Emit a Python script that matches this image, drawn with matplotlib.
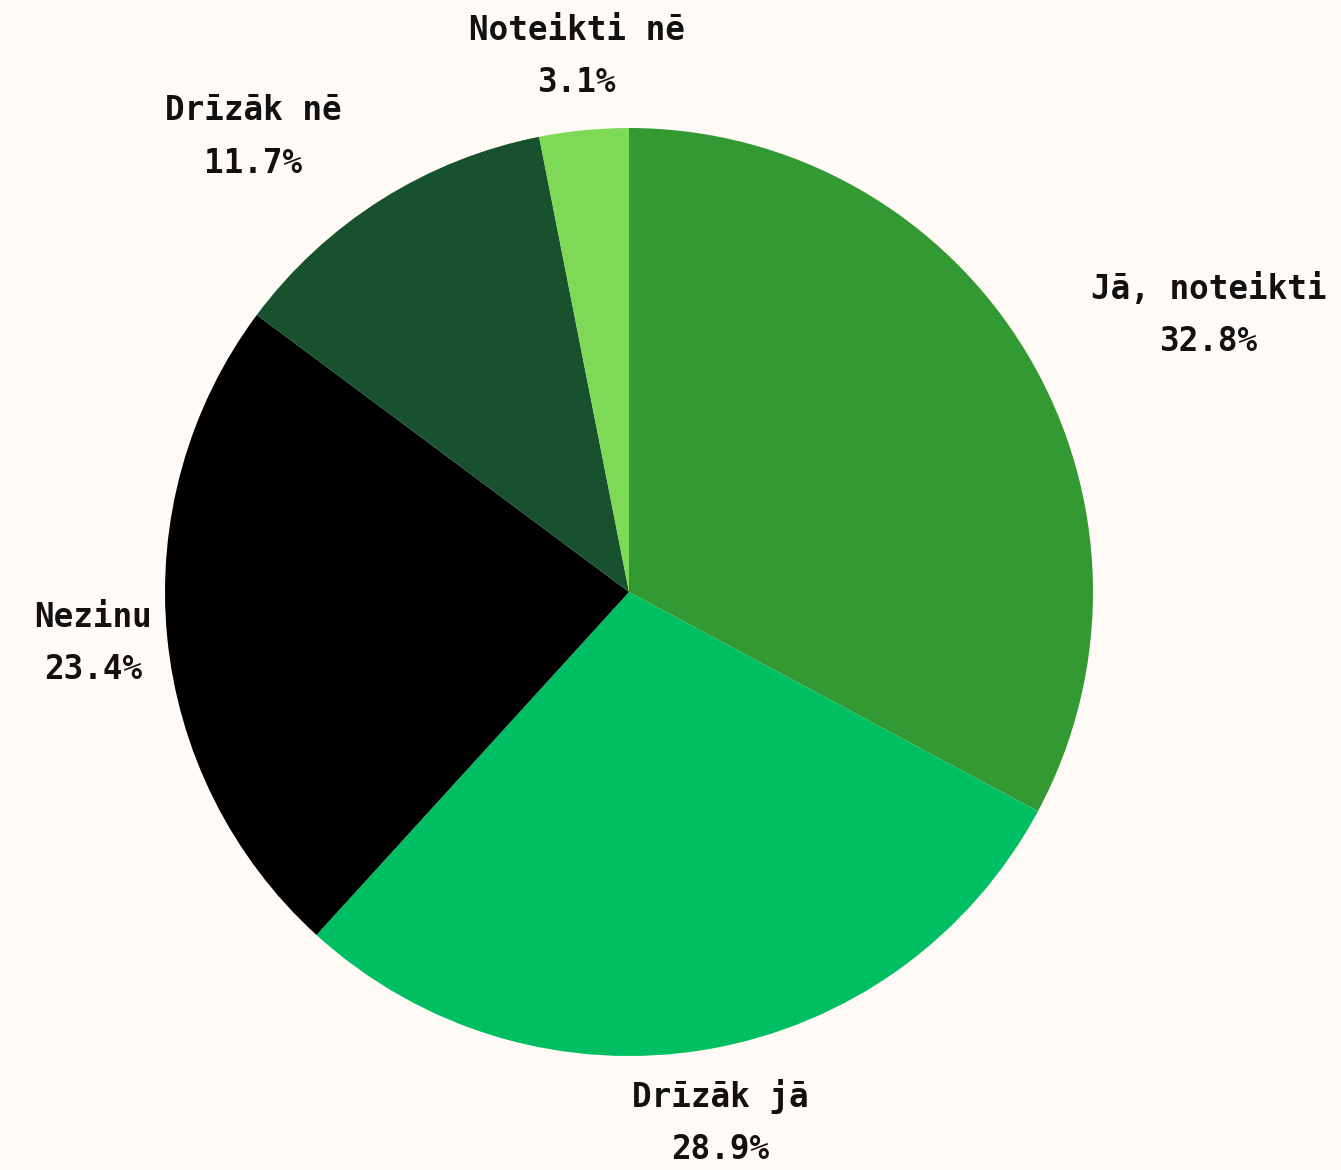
import numpy as np
import matplotlib.pyplot as plt

labels = ["Jā, noteikti", "Drīzāk jā", "Nezinu", "Drīzāk nē", "Noteikti nē"]
shares = [32.8, 28.9, 23.4, 11.7, 3.1]
colors = ["#339933", "#00BF63", "#000000", "#18512E", "#7ED957"]
bg = "#FFFAF6"

plt.rcParams["font.family"] = ["DejaVu Sans Mono"]

fig = plt.figure(figsize=(13.41, 11.7), dpi=100, facecolor=bg)
ax = fig.add_axes([0, 0, 1, 1])
ax.set_facecolor(bg)

wedges, _ = ax.pie(shares, colors=colors, startangle=90, counterclock=False,
                   wedgeprops=dict(linewidth=0))

# outside labels on a ring, diagonal ones pushed away sideways
for w, lab, val in zip(wedges, labels, shares):
    ang = np.deg2rad((w.theta1 + w.theta2) / 2)
    c, s = np.cos(ang), np.sin(ang)
    if 0.3 < abs(c) < 0.9:
        ha = "left" if c > 0 else "right"
    else:
        ha = "center"
    d = 1.16
    ax.text(d * c, d * s, f"{lab}\n{val:.1f}%", ha=ha, va="center",
            multialignment="center", fontsize=23.5, fontweight="bold",
            color="#111111", linespacing=1.75)

ax.set_aspect("auto")
ax.set_xlim(-629 / 464, (1341 - 629) / 464)
ax.set_ylim(-(1170 - 592) / 464, 592 / 464)
ax.axis("off")

fig.savefig("out.png", dpi=100, facecolor=bg)
